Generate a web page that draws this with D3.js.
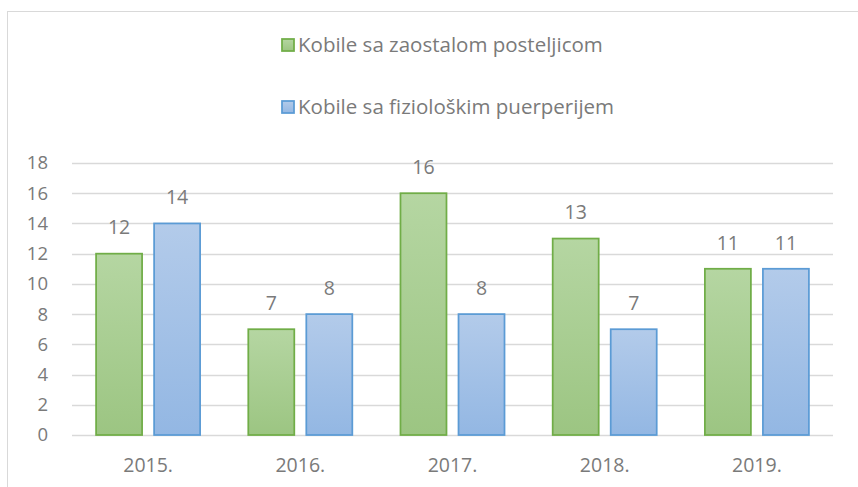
<!DOCTYPE html>
<html>
<head>
<meta charset="utf-8">
<script src="https://cdn.jsdelivr.net/npm/d3@7"></script>
<style>
  body { margin: 0; background: #fff; }
  text { font-family: "Open Sans", "Liberation Sans", sans-serif; fill: #7a7a7a; }
</style>
</head>
<body>
<div id="vis"></div>
<script>
// data
const years = ["2015.", "2016.", "2017.", "2018.", "2019."]
const seriesNames = ["Kobile sa zaostalom posteljicom", "Kobile sa fiziološkim puerperijem"]
const retained = [12, 7, 16, 13, 11]
const physiological = [14, 8, 8, 7, 11]
const yTicks = [0, 2, 4, 6, 8, 10, 12, 14, 16, 18]

const width = 858
const height = 487

const svg = d3.select("#vis")
    .append("svg")
    .attr("width", width)
    .attr("height", height)

// chart frame (cut off at right and bottom)
svg.append("rect")
    .attr("x", 7.5).attr("y", 11.5)
    .attr("width", 900).attr("height", 600)
    .attr("fill", "none")
    .attr("stroke", "#d9d9d9")

// gradients for the bars
const defs = svg.append("defs")
const colors = [
    { id: "gGreen", top: "#b5d6a2", bottom: "#9cc582", stroke: "#70ad47" },
    { id: "gBlue", top: "#b3cbea", bottom: "#93b7e3", stroke: "#5b9bd5" }
]
colors.forEach(c => {
    const lg = defs.append("linearGradient")
        .attr("id", c.id)
        .attr("x1", 0).attr("y1", 0).attr("x2", 0).attr("y2", 1)
    lg.append("stop").attr("offset", "0%").attr("stop-color", c.top)
    lg.append("stop").attr("offset", "100%").attr("stop-color", c.bottom)
})

const plot = { left: 72, right: 833, top: 163, bottom: 435 }

const x0 = d3.scaleBand()
    .domain(years)
    .range([plot.left, plot.right])
    .paddingInner(0.31)
    .paddingOuter(0.155)

const x1 = d3.scaleBand()
    .domain([0, 1])
    .range([0, x0.bandwidth()])
    .paddingInner(0.19)

const y = d3.scaleLinear()
    .domain([0, 18])
    .range([plot.bottom, plot.top])

// gridlines
svg.append("g")
    .selectAll("line")
    .data(yTicks)
    .join("line")
    .attr("x1", plot.left)
    .attr("x2", plot.right)
    .attr("y1", d => Math.round(y(d)) + 0.5)
    .attr("y2", d => Math.round(y(d)) + 0.5)
    .attr("stroke", "#d9d9d9")
    .attr("stroke-width", 1.5)

// y axis labels
const yAxis = svg.append("g")
    .attr("transform", `translate(${plot.left - 24},0)`)
    .call(d3.axisLeft(y).tickValues(yTicks).tickSize(0).tickPadding(0))
yAxis.select(".domain").remove()
yAxis.selectAll("text")
    .style("font-size", "18.5px")
    .style("font-family", "'Open Sans', sans-serif")
    .attr("fill", "#7a7a7a")

// x axis labels
const xAxis = svg.append("g")
    .attr("transform", `translate(0,${plot.bottom + 30})`)
    .call(d3.axisBottom(x0).tickSize(0).tickPadding(0))
xAxis.select(".domain").remove()
xAxis.selectAll("text")
    .attr("dy", "0.35em")
    .style("font-size", "19.5px")
    .style("font-family", "'Open Sans', sans-serif")
    .attr("fill", "#7a7a7a")

// bars
const table = years.map((yr, i) => ({ year: yr, values: [retained[i], physiological[i]] }))

const groups = svg.append("g")
    .selectAll("g")
    .data(table)
    .join("g")
    .attr("transform", d => `translate(${x0(d.year)},0)`)

groups.selectAll("rect")
    .data(d => d.values.map((v, s) => ({ s, v })))
    .join("rect")
    .attr("x", d => x1(d.s) + 0.5)
    .attr("y", d => y(d.v))
    .attr("width", x1.bandwidth() - 1)
    .attr("height", d => y(0) - y(d.v))
    .attr("fill", d => `url(#${colors[d.s].id})`)
    .attr("stroke", d => colors[d.s].stroke)
    .attr("stroke-width", 1.75)

groups.selectAll("text.val")
    .data(d => d.values.map((v, s) => ({ s, v })))
    .join("text")
    .attr("class", "val")
    .attr("x", d => x1(d.s) + x1.bandwidth() / 2)
    .attr("y", d => y(d.v) - 26)
    .attr("dy", "0.35em")
    .attr("text-anchor", "middle")
    .style("font-size", "19.5px")
    .text(d => d.v)

// legend
const legend = svg.append("g")
const legendY = [45, 107]
seriesNames.forEach((name, i) => {
    legend.append("rect")
        .attr("x", 282).attr("y", legendY[i] - 6)
        .attr("width", 12).attr("height", 12)
        .attr("fill", `url(#${colors[i].id})`)
        .attr("stroke", colors[i].stroke)
        .attr("stroke-width", 1.75)
    legend.append("text")
        .attr("x", 298).attr("y", legendY[i])
        .attr("dy", "0.35em")
        .style("font-size", "20.5px")
        .text(name)
})
</script>
</body>
</html>
